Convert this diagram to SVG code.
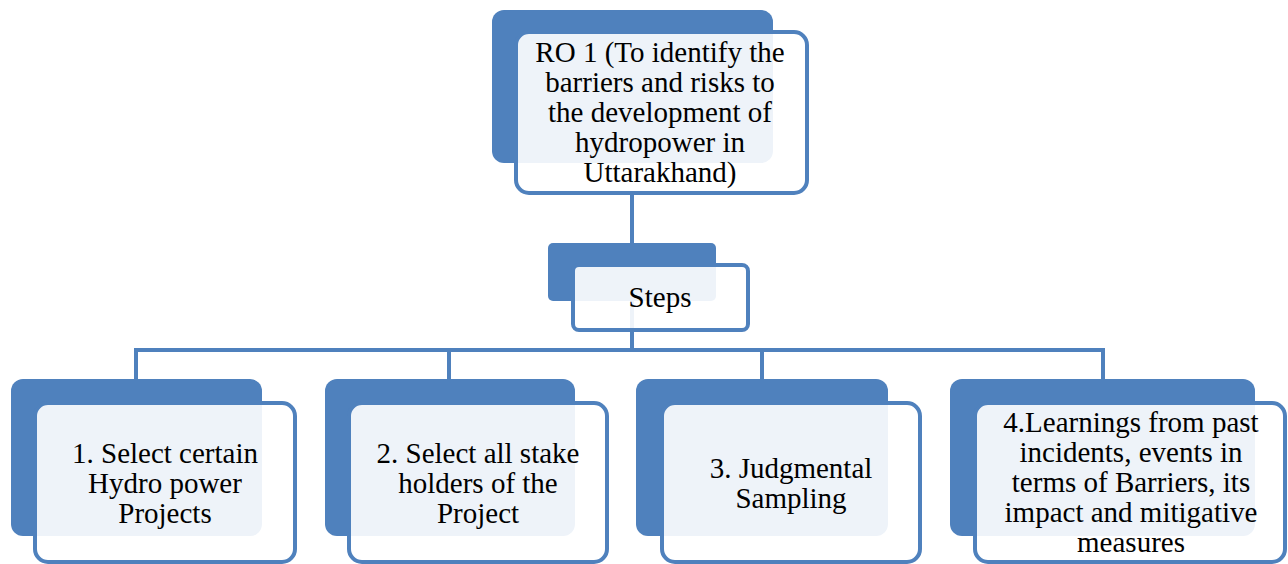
<svg xmlns="http://www.w3.org/2000/svg" width="1288" height="564" viewBox="0 0 1288 564">
<style>
.back{fill:#4f81bd;}
.front{fill:#ffffff;fill-opacity:0.9;stroke:#4f81bd;stroke-width:4;}
.conn{fill:none;stroke:#4f81bd;stroke-width:4;}
.t{font-family:'Liberation Serif','Times New Roman',Times,serif;font-size:29px;fill:#000;text-anchor:middle;}
</style>
<rect width="1288" height="564" fill="#ffffff"/>
<g id="connectors">
<path class="conn" d="M632,193 V350"/>
<path class="conn" d="M136,380 V350 H1103 V380"/>
<path class="conn" d="M449,350 V380"/>
<path class="conn" d="M762,350 V380"/>
</g>
<g id="node-ro1">
<rect class="back" x="492" y="10" width="281" height="153" rx="12"/>
<rect class="front" x="516" y="32" width="291" height="161" rx="13"/>
<text class="t" x="660" y="62">RO 1 (To identify the</text>
<text class="t" x="660" y="92">barriers and risks to</text>
<text class="t" x="660" y="122">the development of</text>
<text class="t" x="660" y="152">hydropower in</text>
<text class="t" x="660" y="182">Uttarakhand)</text>
</g>
<g id="node-steps">
<rect class="back" x="548" y="243" width="168" height="58" rx="5"/>
<rect class="front" x="573" y="265" width="175" height="65" rx="6"/>
<text class="t" x="660" y="307">Steps</text>
</g>
<g id="node-1">
<rect class="back" x="11" y="379" width="251" height="157" rx="12"/>
<rect class="front" x="35" y="403" width="260" height="159" rx="13"/>
<text class="t" x="165" y="463">1. Select certain</text>
<text class="t" x="165" y="493">Hydro power</text>
<text class="t" x="165" y="523">Projects</text>
</g>
<g id="node-2">
<rect class="back" x="325" y="379" width="250" height="157" rx="12"/>
<rect class="front" x="349" y="403" width="258" height="159" rx="13"/>
<text class="t" x="478" y="463">2. Select all stake</text>
<text class="t" x="478" y="493">holders of the</text>
<text class="t" x="478" y="523">Project</text>
</g>
<g id="node-3">
<rect class="back" x="636" y="379" width="252" height="157" rx="12"/>
<rect class="front" x="662" y="403" width="258" height="159" rx="13"/>
<text class="t" x="791" y="478">3. Judgmental</text>
<text class="t" x="791" y="508">Sampling</text>
</g>
<g id="node-4">
<rect class="back" x="950" y="379" width="305" height="157" rx="12"/>
<rect class="front" x="975" y="403" width="310" height="159" rx="13"/>
<text class="t" x="1131" y="432">4.Learnings from past</text>
<text class="t" x="1131" y="462">incidents, events in</text>
<text class="t" x="1131" y="492">terms of Barriers, its</text>
<text class="t" x="1131" y="522">impact and mitigative</text>
<text class="t" x="1131" y="552">measures</text>
</g>
</svg>
